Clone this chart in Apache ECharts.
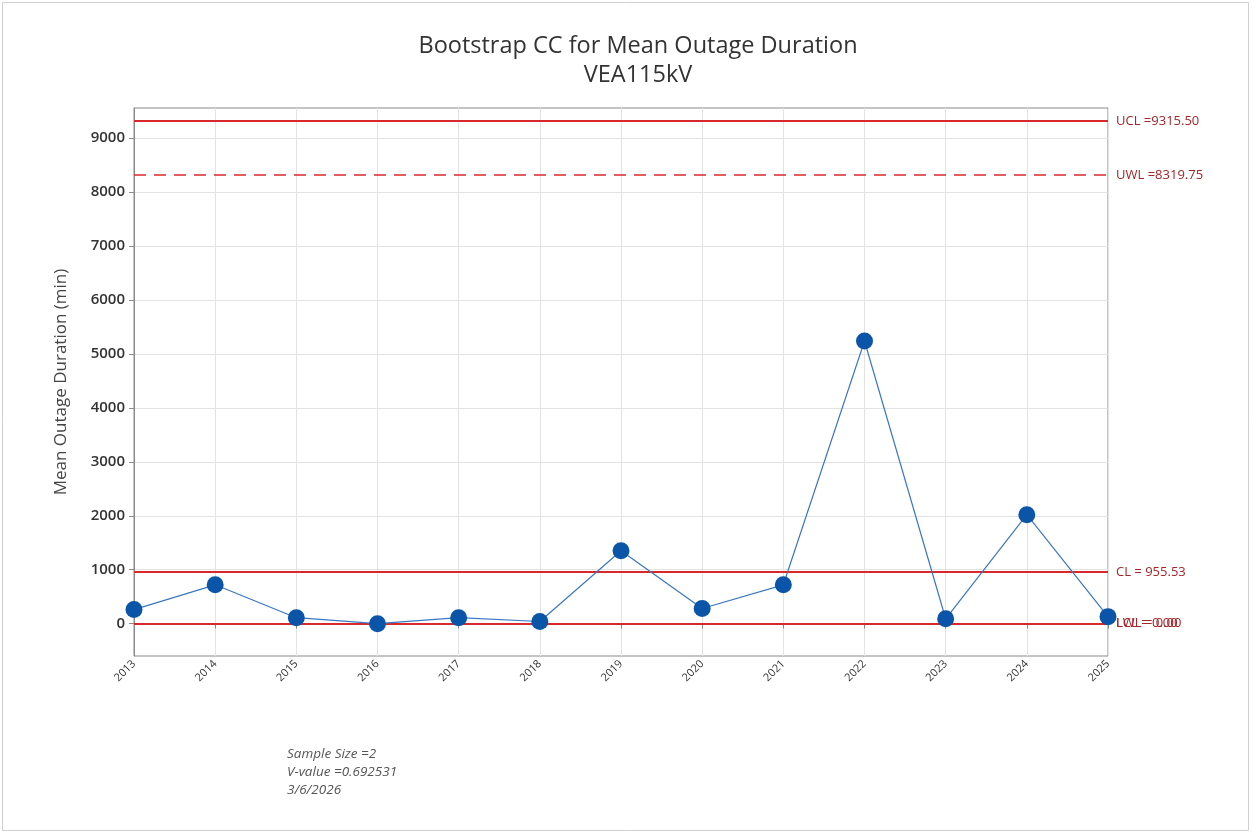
<!DOCTYPE html>
<html>
<head>
<meta charset="utf-8">
<script src="https://cdn.jsdelivr.net/npm/echarts@6/dist/echarts.min.js"></script>
<style>
  html, body { margin: 0; padding: 0; background: #fff; }
  #chart { width: 1252px; height: 833px; }
</style>
</head>
<body>
<div id="chart"></div>
<script>
// 年份与样本均值
var years = ['2013', '2014', '2015', '2016', '2017', '2018', '2019', '2020', '2021', '2022', '2023', '2024', '2025'];
var meanDuration = [260, 720, 110, 0, 110, 40, 1350, 280, 720, 5240, 90, 2020, 130];

// 控制限
var limitNames = ['UCL', 'UWL', 'CL', 'LCL', 'LWL'];
var limitValues = [9315.50, 8319.75, 955.53, 0, 0];
var limitLabels = ['UCL =9315.50', 'UWL =8319.75', 'CL = 955.53', 'LCL = 0.00', 'LWL = 0.00'];
var limitDashed = [false, true, false, false, true];

var yTicks = [0, 1000, 2000, 3000, 4000, 5000, 6000, 7000, 8000, 9000];

var noteLines = ['Sample Size =2', 'V-value =0.692531', '3/6/2026'];

var red = '#d8282c';

var markData = limitValues.map(function (v, i) {
    return {
        name: limitNames[i],
        yAxis: v,
        lineStyle: {
            color: red,
            width: limitDashed[i] ? 1.5 : 2,
            type: limitDashed[i] ? [12, 8] : 'solid'
        },
        label: {
            formatter: limitLabels[i]
        }
    };
});

var chart = echarts.init(document.getElementById('chart'));
var option = {
    backgroundColor: '#fff',
    animation: false,
    title: {
        text: 'Bootstrap CC for Mean Outage Duration\nVEA115kV',
        left: 633,
        textAlign: 'center',
        top: 27,
        textStyle: {
            fontFamily: 'Open Sans',
            fontSize: 23.5,
            fontWeight: 'normal',
            color: '#333',
            lineHeight: 29
        }
    },
    grid: {
        left: 134,
        right: 144,
        top: 108,
        bottom: 177,
        show: true,
        borderColor: '#8a8a8a',
        borderWidth: 1
    },
    xAxis: {
        type: 'category',
        data: years,
        boundaryGap: false,
        axisLine: { lineStyle: { color: '#8a8a8a' } },
        axisTick: { show: true, alignWithLabel: true, length: 5, lineStyle: { color: '#8a8a8a' } },
        axisLabel: {
            rotate: 45,
            fontFamily: 'Open Sans',
            fontSize: 11,
            color: '#333',
            margin: 6
        },
        splitLine: { show: true, lineStyle: { color: '#e3e3e3' } }
    },
    yAxis: {
        type: 'value',
        min: -600,
        max: 9560,
        name: 'Mean Outage Duration (min)',
        nameLocation: 'middle',
        nameGap: 64,
        nameTextStyle: { fontFamily: 'Open Sans', fontSize: 17, color: '#444' },
        axisLine: { show: true, lineStyle: { color: '#8a8a8a' } },
        axisTick: { show: true, length: 5, customValues: yTicks, lineStyle: { color: '#8a8a8a' } },
        axisLabel: {
            customValues: yTicks,
            formatter: function (v) { return String(v); },
            fontFamily: 'Open Sans',
            fontSize: 15,
            fontWeight: 600,
            color: '#333',
            margin: 9
        },
        splitLine: { show: true, lineStyle: { color: '#e3e3e3' } }
    },
    series: [{
        type: 'line',
        data: meanDuration,
        symbol: 'circle',
        symbolSize: 17,
        itemStyle: { color: '#0b55a8' },
        lineStyle: { color: '#3a78c2', width: 1.2 },
        z: 5,
        markLine: {
            silent: true,
            symbol: 'none',
            z: 3,
            label: {
                position: 'end',
                distance: 8,
                color: '#a3262b',
                fontFamily: 'Open Sans',
                fontSize: 13
            },
            data: markData
        }
    }],
    graphic: [
        {
            type: 'group',
            left: 287,
            top: 747,
            children: noteLines.map(function (t, i) {
                return {
                    type: 'text',
                    y: i * 18,
                    style: {
                        text: t,
                        font: 'italic 13.5px "Open Sans"',
                        fill: '#555'
                    }
                };
            })
        },
        {
            type: 'rect',
            left: 0,
            top: 0,
            shape: { x: 0.5, y: 0.5, width: 1246, height: 828 },
            style: { fill: 'none', stroke: '#d0d0d0', lineWidth: 1 },
            silent: true
        }
    ]
};
chart.setOption(option);
</script>
</body>
</html>
